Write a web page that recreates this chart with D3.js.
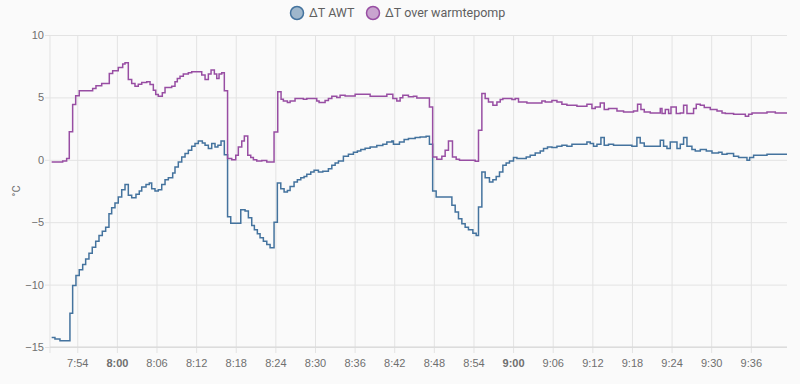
<!DOCTYPE html>
<html>
<head>
<meta charset="utf-8">
<script src="https://cdn.jsdelivr.net/npm/d3@7"></script>
<style>
  body { margin: 0; background: #fafafa; }
  svg { display: block; font-family: Roboto, "Noto Sans", sans-serif; }
</style>
</head>
<body>
<div id="chart"></div>
<script>
// minutes after 7:00, value in degC (step data)
const awt = [
  [50.12, -14.23], [50.62, -14.36], [51.38, -14.5], [52.89, -12.3], [53.30, -10.08],
  [53.80, -9.28], [54.30, -8.82], [54.82, -8.39], [55.27, -7.94], [55.77, -7.48],
  [56.27, -7.0], [56.79, -6.52], [57.29, -6.06], [57.79, -5.72], [58.30, -5.4],
  [58.80, -4.32], [59.21, -3.84], [59.71, -3.47], [60.21, -2.99], [60.73, -2.39],
  [61.23, -1.97], [61.73, -2.85], [62.24, -3.04], [62.89, -2.77], [63.39, -2.5],
  [63.76, -2.18], [64.41, -1.97], [64.91, -1.86], [65.27, -2.32], [65.77, -2.5],
  [66.27, -2.39], [66.79, -1.97], [67.29, -1.59], [67.79, -1.43], [68.45, -1.06],
  [68.80, -0.58], [69.30, -0.18], [69.82, 0.22], [70.32, 0.5], [70.82, 0.76],
  [71.33, 1.08], [71.83, 1.3], [72.33, 1.51], [72.94, 1.35], [73.35, 1.16],
  [73.85, 0.9], [74.36, 1.3], [74.86, 1.03], [75.30, 1.16], [75.77, 1.51],
  [76.27, 0.4], [76.76, -4.56], [77.24, -5.08], [78.76, -4.0], [79.41, -4.11],
  [79.91, -4.64], [80.42, -5.26], [80.82, -5.61], [81.27, -5.93], [81.68, -6.25],
  [82.18, -6.52], [82.70, -6.79], [83.20, -7.05], [83.80, -5.0], [84.30, -1.86],
  [84.82, -2.32], [85.32, -2.58], [85.82, -2.45], [86.23, -2.13], [86.83, -1.78],
  [87.33, -1.59], [87.85, -1.43], [88.35, -1.33], [88.76, -1.16], [89.36, -0.98],
  [89.86, -0.84], [90.52, -0.98], [91.18, -0.92], [92.03, -0.71], [92.55, -0.44],
  [93.05, -0.26], [93.55, -0.1], [94.30, 0.28], [95.06, 0.44], [95.82, 0.6],
  [96.42, 0.71], [96.94, 0.82], [97.59, 0.92], [98.35, 1.03], [99.36, 1.14],
  [100.27, 1.24], [100.88, 1.43], [101.64, 1.51], [101.88, 1.24], [102.79, 1.43],
  [103.50, 1.62], [104.15, 1.7], [105.17, 1.78], [105.92, 1.83], [106.83, 1.89],
  [107.33, 1.24], [107.82, -2.5], [108.35, -2.99], [110.73, -3.65], [111.23, -4.19],
  [111.73, -4.73], [112.24, -5.13], [112.74, -5.4], [113.24, -5.61], [113.91, -5.88],
  [114.41, -6.06], [114.76, -3.79], [115.27, -0.98], [115.77, -1.43], [116.42, -1.78],
  [116.94, -1.59], [117.44, -1.33], [117.94, -0.98], [118.45, -0.44], [118.95, -0.26],
  [119.45, -0.1], [120.06, 0.18], [120.58, 0.1], [121.99, 0.22], [122.59, 0.36],
  [123.35, 0.55], [124.11, 0.71], [124.61, 0.9], [125.21, 1.03], [125.88, 0.98],
  [126.64, 1.08], [127.39, 1.16], [128.15, 1.08], [128.91, 1.24], [131.18, 1.43],
  [131.68, 1.3], [132.18, 1.08], [132.70, 1.24], [133.30, 1.78], [133.80, 1.16],
  [134.45, 1.24], [135.21, 1.16], [137.99, 1.08], [138.75, 1.78], [139.25, 1.35],
  [139.86, 1.08], [142.29, 1.57], [142.79, 1.08], [143.30, 0.9], [143.80, 1.43],
  [144.82, 0.9], [145.32, 1.24], [145.82, 1.78], [146.33, 1.08], [147.08, 0.82],
  [147.59, 0.71], [148.35, 0.82], [149.26, 0.71], [150.12, 0.55], [151.12, 0.6],
  [151.64, 0.44], [152.39, 0.5], [153.39, 0.28], [154.15, 0.18], [155.42, -0.04],
  [155.82, 0.18], [156.42, 0.36], [158.45, 0.44], [161.48, 0.44]
];

const overWp = [
  [50.12, -0.18], [51.79, -0.1], [52.39, 0.1], [52.79, 2.25], [53.30, 4.43],
  [53.76, 5.13], [54.30, 5.53], [56.33, 5.72], [56.83, 5.93], [57.70, 6.12],
  [58.85, 6.92], [59.36, 7.13], [60.21, 7.4], [60.88, 7.67], [61.23, 7.77],
  [61.73, 6.44], [62.24, 6.12], [62.74, 5.9], [63.24, 6.06], [63.76, 6.2],
  [64.52, 6.25], [65.02, 6.04], [65.52, 5.58], [65.88, 5.24], [66.27, 5.1],
  [66.88, 5.37], [67.29, 5.8], [68.30, 5.9], [68.80, 6.25], [69.15, 6.52],
  [69.56, 6.7], [70.06, 6.87], [70.82, 6.97], [71.33, 7.05], [72.85, 6.79],
  [73.35, 6.44], [73.85, 6.87], [74.26, 7.19], [74.76, 6.87], [75.12, 6.52],
  [75.47, 6.87], [75.88, 6.97], [76.27, 5.53], [76.76, 0.1], [77.39, 0.0],
  [78.0, 0.36], [78.39, 1.03], [78.91, 1.5], [79.30, 1.91], [79.82, 0.36],
  [80.27, 0.18], [80.67, 0.0], [81.18, -0.1], [81.94, -0.05], [82.70, -0.18],
  [83.80, 2.23], [84.36, 5.45], [84.86, 4.86], [85.21, 4.72], [85.82, 4.6],
  [86.23, 4.72], [86.98, 4.92], [88.24, 4.85], [88.76, 4.92], [90.27, 4.72],
  [90.62, 4.6], [91.53, 4.75], [92.03, 4.92], [92.55, 5.1], [93.30, 5.0],
  [93.80, 5.18], [94.56, 5.12], [96.08, 5.26], [98.35, 5.1], [100.88, 5.26],
  [101.79, 4.92], [102.39, 4.72], [102.89, 4.98], [103.30, 5.18], [104.15, 5.05],
  [104.91, 5.1], [105.42, 4.96], [107.33, 4.24], [107.82, 0.22], [108.45, 0.04],
  [109.21, 0.28], [109.71, 0.76], [110.21, 1.51], [110.82, 0.22], [111.38, 0.04],
  [111.88, -0.04], [114.26, -0.12], [114.76, 2.37], [115.27, 5.32], [115.77, 4.92],
  [116.27, 4.64], [116.94, 4.38], [117.55, 4.64], [118.05, 4.84], [118.45, 4.92],
  [119.82, 4.84], [120.32, 4.92], [120.82, 4.64], [122.09, 4.56], [124.36, 4.72],
  [124.86, 4.64], [125.88, 4.76], [126.64, 4.64], [127.39, 4.46], [128.15, 4.38],
  [129.67, 4.3], [131.18, 4.46], [131.94, 4.11], [132.44, 4.24], [133.20, 4.56],
  [133.80, 4.03], [134.45, 4.11], [135.73, 3.92], [136.73, 3.84], [138.24, 3.92],
  [138.85, 4.46], [139.36, 4.03], [139.86, 3.84], [140.77, 3.76], [142.29, 4.11],
  [142.55, 3.71], [143.05, 4.03], [143.55, 3.71], [143.91, 4.24], [144.71, 3.71],
  [145.32, 3.76], [145.82, 4.38], [146.33, 3.71], [147.33, 4.11], [147.74, 4.46],
  [148.35, 4.38], [148.95, 4.2], [149.86, 4.03], [150.88, 3.92], [151.64, 3.76],
  [152.14, 3.71], [153.39, 3.65], [155.17, 3.49], [155.67, 3.65], [156.18, 3.76],
  [158.45, 3.84], [159.71, 3.76], [161.48, 3.76]
];

const seriesNames = ['\u0394T AWT', '\u0394T over warmtepomp'];
const seriesColors = ['#44739e', '#984ea3'];
const yTicks = [-15, -10, -5, 0, 5, 10];
const unitLabel = '\u00b0C';
const startMin = 49.87;
const endMin = 161.48;

const width = 800;
const height = 384;
const margin = { top: 35, right: 13, bottom: 37, left: 50 };

const base = new Date(2024, 0, 1, 7, 0, 0);
const toDate = m => new Date(base.getTime() + m * 60000);

const svg = d3.select('#chart')
    .append('svg')
    .attr('width', width)
    .attr('height', height);

svg.append('rect')
    .attr('width', width)
    .attr('height', height)
    .attr('fill', '#fafafa');

const x = d3.scaleTime()
    .domain([toDate(startMin), toDate(endMin)])
    .range([margin.left, width - margin.right]);

const y = d3.scaleLinear()
    .domain([-15, 10])
    .range([height - margin.bottom, margin.top]);

// horizontal grid + y labels
const yAxis = svg.append('g')
    .attr('transform', `translate(${margin.left},0)`)
    .call(d3.axisLeft(y)
        .tickValues(yTicks)
        .tickSize(-(width - margin.left - margin.right))
        .tickPadding(6)
        .tickFormat(d3.format('d')));
yAxis.select('.domain').remove();
yAxis.selectAll('.tick line').attr('stroke', '#e3e3e3').attr('x1', -5);
yAxis.selectAll('.tick text')
    .attr('fill', '#6f6f6f')
    .style('font-size', '11px');

// vertical grid + time labels
const xAxis = svg.append('g')
    .attr('transform', `translate(0,${height - margin.bottom})`)
    .call(d3.axisBottom(x)
        .ticks(d3.timeMinute.every(6))
        .tickSize(-(height - margin.top - margin.bottom))
        .tickPadding(12)
        .tickFormat(d3.timeFormat('%-H:%M')));
xAxis.select('.domain').remove();
xAxis.selectAll('.tick line').attr('stroke', '#e3e3e3').attr('y1', 6);
xAxis.selectAll('.tick text')
    .attr('fill', '#6f6f6f')
    .style('font-size', '11px')
    .style('font-weight', d => d.getMinutes() === 0 ? 'bold' : 'normal');

// left and bottom border lines
svg.append('line')
    .attr('x1', margin.left).attr('x2', margin.left)
    .attr('y1', margin.top).attr('y2', height - margin.bottom + 6)
    .attr('stroke', '#e3e3e3');
svg.append('line')
    .attr('x1', margin.left).attr('x2', width - margin.right)
    .attr('y1', height - margin.bottom).attr('y2', height - margin.bottom)
    .attr('stroke', '#d6d6d6');

// y unit label
svg.append('text')
    .attr('transform', `translate(16,${(margin.top + height - margin.bottom) / 2}) rotate(-90)`)
    .attr('text-anchor', 'middle')
    .attr('dy', '0.35em')
    .attr('fill', '#6f6f6f')
    .style('font-size', '11px')
    .text(unitLabel);

const line = d3.line()
    .x(d => x(toDate(d[0])))
    .y(d => y(d[1]))
    .curve(d3.curveStepAfter);

[awt, overWp].forEach((data, i) => {
    svg.append('path')
        .datum(data)
        .attr('d', line)
        .attr('fill', 'none')
        .attr('stroke', seriesColors[i])
        .attr('stroke-width', 1.5);
});

// legend
const legendX = [297, 373];
seriesNames.forEach((name, i) => {
    const g = svg.append('g').attr('transform', `translate(${legendX[i]},13)`);
    g.append('circle')
        .attr('r', 6.5)
        .attr('fill', seriesColors[i])
        .attr('fill-opacity', 0.5)
        .attr('stroke', seriesColors[i])
        .attr('stroke-width', 1.5);
    g.append('text')
        .attr('x', 12)
        .attr('dy', '0.35em')
        .attr('fill', '#5f5f5f')
        .style('font-size', '12.5px')
        .text(name);
});
</script>
</body>
</html>
